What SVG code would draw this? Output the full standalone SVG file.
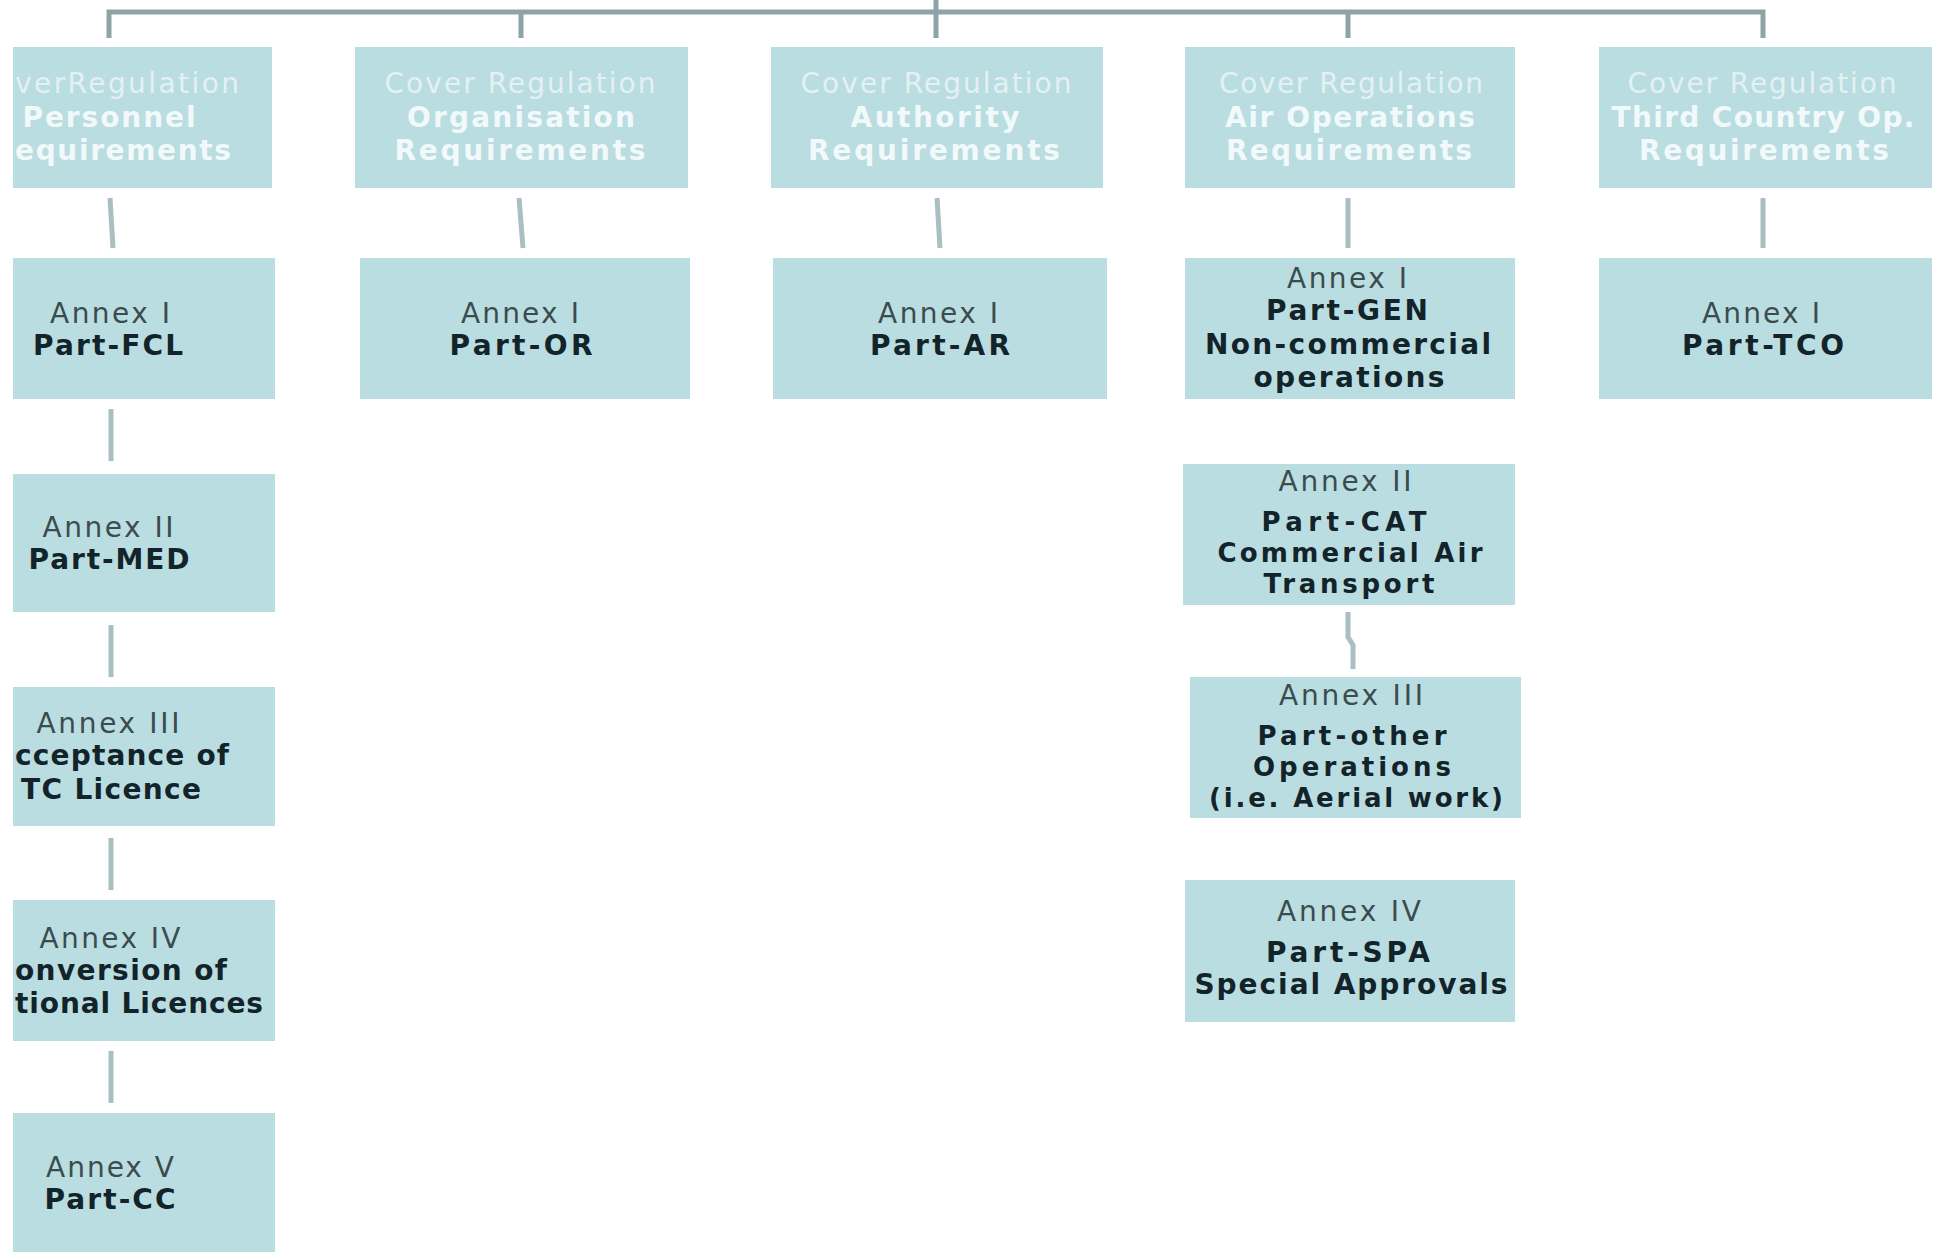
<svg xmlns="http://www.w3.org/2000/svg" width="1944" height="1257" viewBox="0 0 1944 1257">
<style>
.box{fill:#badde1}
.bus{stroke:#8ea3a5;stroke-width:5;fill:none}
.con{stroke:#a9bfc1;stroke-width:5;fill:none}
text{font-family:"DejaVu Sans","Liberation Sans",sans-serif;font-size:28px;text-anchor:middle}
.cv{fill:#e4f1f2}
.cb{fill:#f2f9fa;font-weight:bold}
.an{fill:#3a4c4e}
.pt{fill:#13232a;font-weight:bold}
.sm{font-size:26px}
</style>
<rect width="1944" height="1257" fill="#ffffff"/>
<g id="connectors">
<path class="bus" d="M109,38 V12 H1763 V38"/>
<path class="bus" d="M936,0 V38 M521,12 V38 M1348,12 V38"/>
<path class="con" d="M110,198 L113,248 M519,198 L523,248 M937,198 L940,248 M1348,198 V248 M1763,198 V248"/>
<path class="con" d="M111,409 V461 M111,625 V677 M111,838 V890 M111,1051 V1103"/>
<path class="con" d="M1348,612 V637 L1353,645 V669"/>
</g>
<g id="cover-personnel">
<rect class="box" x="13" y="47" width="259" height="141"/>
<text class="cv" x="127" y="93" textLength="224" lengthAdjust="spacing">verRegulation</text>
<text class="cb" x="109" y="127" textLength="173" lengthAdjust="spacing">Personnel</text>
<text class="cb" x="123" y="160" textLength="216" lengthAdjust="spacing">equirements</text>
</g>
<g id="cover-organisation">
<rect class="box" x="355" y="47" width="333" height="141"/>
<text class="cv" x="520" y="93" textLength="271" lengthAdjust="spacing">Cover Regulation</text>
<text class="cb" x="521" y="127" textLength="228" lengthAdjust="spacing">Organisation</text>
<text class="cb" x="520" y="160" textLength="251" lengthAdjust="spacing">Requirements</text>
</g>
<g id="cover-authority">
<rect class="box" x="771" y="47" width="332" height="141"/>
<text class="cv" x="936" y="93" textLength="271" lengthAdjust="spacing">Cover Regulation</text>
<text class="cb" x="935" y="127" textLength="169" lengthAdjust="spacing">Authority</text>
<text class="cb" x="934" y="160" textLength="252" lengthAdjust="spacing">Requirements</text>
</g>
<g id="cover-airops">
<rect class="box" x="1185" y="47" width="330" height="141"/>
<text class="cv" x="1351" y="93" textLength="264" lengthAdjust="spacing">Cover Regulation</text>
<text class="cb" x="1350" y="127" textLength="250" lengthAdjust="spacing">Air Operations</text>
<text class="cb" x="1349" y="160" textLength="246" lengthAdjust="spacing">Requirements</text>
</g>
<g id="cover-tco">
<rect class="box" x="1599" y="47" width="333" height="141"/>
<text class="cv" x="1762" y="93" textLength="269" lengthAdjust="spacing">Cover Regulation</text>
<text class="cb" x="1763" y="127" textLength="303" lengthAdjust="spacing">Third Country Op.</text>
<text class="cb" x="1764" y="160" textLength="250" lengthAdjust="spacing">Requirements</text>
</g>
<g id="part-fcl">
<rect class="box" x="13" y="258" width="262" height="141"/>
<text class="an" x="110" y="323" textLength="120" lengthAdjust="spacing">Annex I</text>
<text class="pt" x="108" y="355" textLength="150" lengthAdjust="spacing">Part-FCL</text>
</g>
<g id="part-or">
<rect class="box" x="360" y="258" width="330" height="141"/>
<text class="an" x="520" y="323" textLength="118" lengthAdjust="spacing">Annex I</text>
<text class="pt" x="521" y="355" textLength="143" lengthAdjust="spacing">Part-OR</text>
</g>
<g id="part-ar">
<rect class="box" x="773" y="258" width="334" height="141"/>
<text class="an" x="938" y="323" textLength="120" lengthAdjust="spacing">Annex I</text>
<text class="pt" x="940" y="355" textLength="140" lengthAdjust="spacing">Part-AR</text>
</g>
<g id="part-gen">
<rect class="box" x="1185" y="258" width="330" height="141"/>
<text class="an" x="1347" y="288" textLength="120" lengthAdjust="spacing">Annex I</text>
<text class="pt" x="1347" y="320" textLength="162" lengthAdjust="spacing">Part-GEN</text>
<text class="pt" x="1348" y="354" textLength="286" lengthAdjust="spacing">Non-commercial</text>
<text class="pt" x="1349" y="387" textLength="191" lengthAdjust="spacing">operations</text>
</g>
<g id="part-tco">
<rect class="box" x="1599" y="258" width="333" height="141"/>
<text class="an" x="1761" y="323" textLength="118" lengthAdjust="spacing">Annex I</text>
<text class="pt" x="1763" y="355" textLength="162" lengthAdjust="spacing">Part-TCO</text>
</g>
<g id="part-med">
<rect class="box" x="13" y="474" width="262" height="138"/>
<text class="an" x="108" y="537" textLength="131" lengthAdjust="spacing">Annex II</text>
<text class="pt" x="109" y="569" textLength="161" lengthAdjust="spacing">Part-MED</text>
</g>
<g id="annex-3-tc">
<rect class="box" x="13" y="687" width="262" height="139"/>
<text class="an" x="108" y="733" textLength="143" lengthAdjust="spacing">Annex III</text>
<text class="pt" x="122" y="765" textLength="214" lengthAdjust="spacing">cceptance of</text>
<text class="pt" x="111" y="799" textLength="180" lengthAdjust="spacing">TC Licence</text>
</g>
<g id="annex-4-conv">
<rect class="box" x="13" y="900" width="262" height="141"/>
<text class="an" x="110" y="948" textLength="141" lengthAdjust="spacing">Annex IV</text>
<text class="pt" x="121" y="980" textLength="212" lengthAdjust="spacing">onversion of</text>
<text class="pt" x="139" y="1013" textLength="248" lengthAdjust="spacing">tional Licences</text>
</g>
<g id="part-cc">
<rect class="box" x="13" y="1113" width="262" height="139"/>
<text class="an" x="110" y="1177" textLength="128" lengthAdjust="spacing">Annex V</text>
<text class="pt" x="110" y="1209" textLength="131" lengthAdjust="spacing">Part-CC</text>
</g>
<g id="part-cat">
<rect class="box" x="1183" y="464" width="332" height="141"/>
<text class="an" x="1345" y="491" textLength="133" lengthAdjust="spacing">Annex II</text>
<text class="pt sm" x="1344" y="531" textLength="165" lengthAdjust="spacing">Part-CAT</text>
<text class="pt sm" x="1350" y="562" textLength="265" lengthAdjust="spacing">Commercial Air</text>
<text class="pt sm" x="1349" y="593" textLength="171" lengthAdjust="spacing">Transport</text>
</g>
<g id="part-other">
<rect class="box" x="1190" y="677" width="331" height="141"/>
<text class="an" x="1351" y="705" textLength="144" lengthAdjust="spacing">Annex III</text>
<text class="pt sm" x="1352" y="745" textLength="189" lengthAdjust="spacing">Part-other</text>
<text class="pt sm" x="1352" y="776" textLength="198" lengthAdjust="spacing">Operations</text>
<text class="pt sm" x="1356" y="807" textLength="294" lengthAdjust="spacing">(i.e. Aerial work)</text>
</g>
<g id="part-spa">
<rect class="box" x="1185" y="880" width="330" height="142"/>
<text class="an" x="1349" y="921" textLength="144" lengthAdjust="spacing">Annex IV</text>
<text class="pt" x="1348" y="962" textLength="164" lengthAdjust="spacing">Part-SPA</text>
<text class="pt" x="1351" y="994" textLength="313" lengthAdjust="spacing">Special Approvals</text>
</g>
</svg>
